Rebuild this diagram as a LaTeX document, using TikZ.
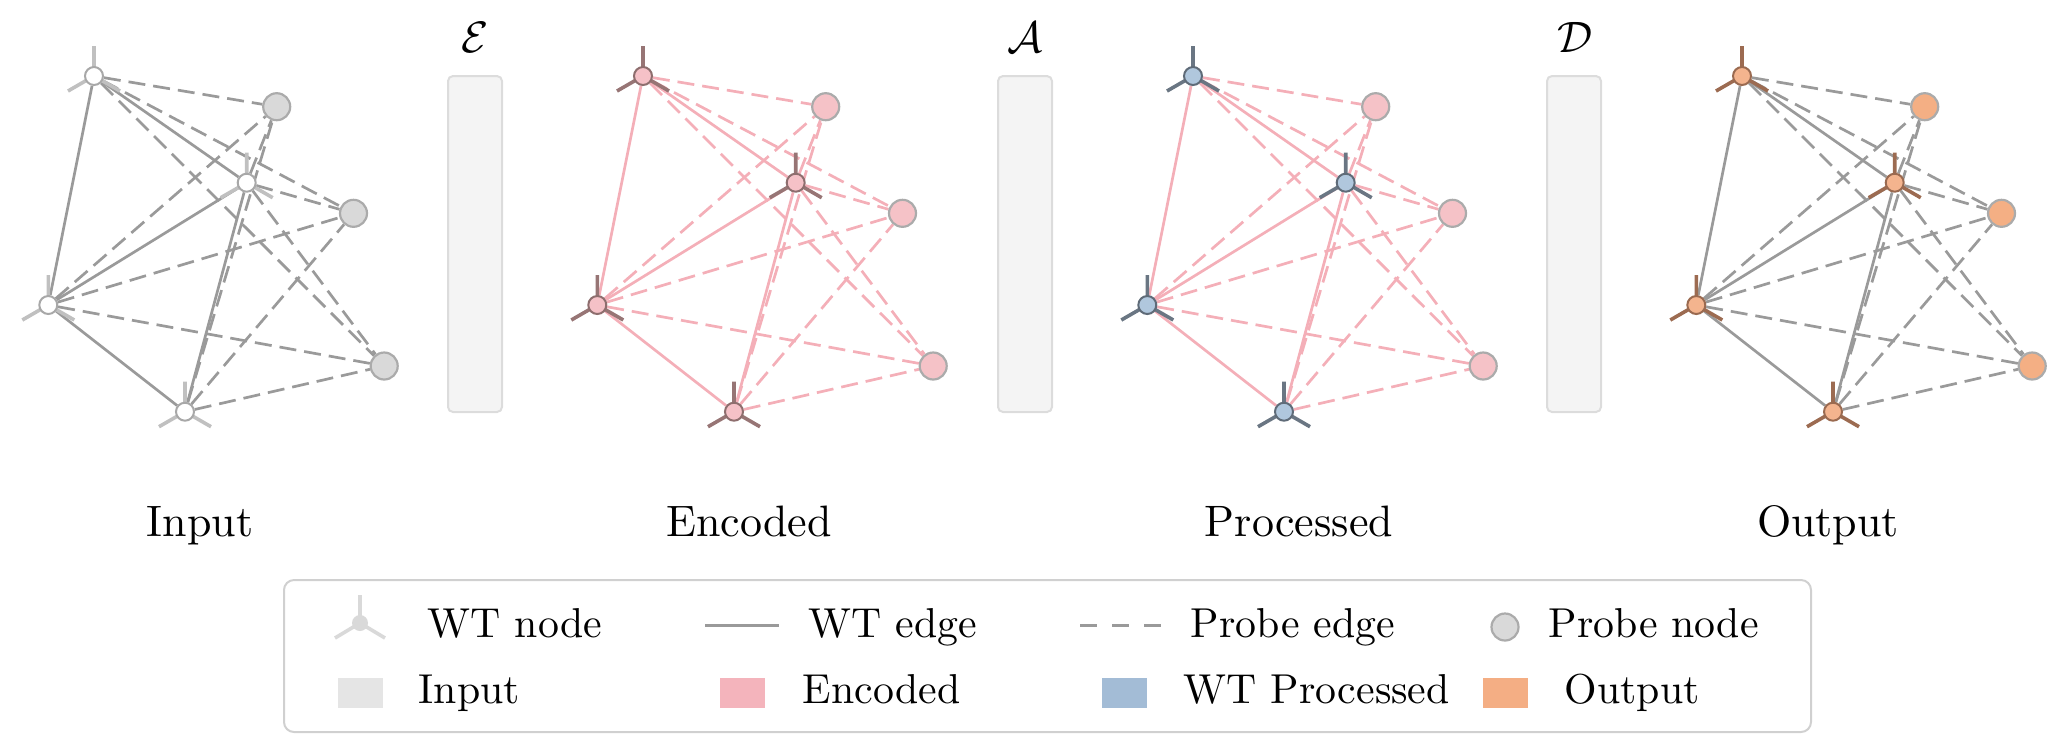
\documentclass[tikz,border=0pt]{standalone}
\usepackage{tikz}
\newdimen\pxu \pxu=0.22727pt
\pgfdeclarelayer{bg}\pgfdeclarelayer{mid}\pgfsetlayers{bg,mid,main}
\definecolor{edgegray}{HTML}{9A9A9A}
\definecolor{edgepink}{HTML}{F4AFB8}
\definecolor{prbstroke}{HTML}{ABABAB}
\definecolor{prbgray}{HTML}{D9D9D9}
\definecolor{prbpink}{HTML}{F5C2C7}
\definecolor{prbpeach}{HTML}{F4AF84}
\definecolor{inwhite}{HTML}{FFFFFF}
\definecolor{instroke}{HTML}{A8A8A8}
\definecolor{inspoke}{HTML}{C0C0C0}
\definecolor{enfill}{HTML}{F5C1C7}
\definecolor{enstroke}{HTML}{8E6E6E}
\definecolor{enspoke}{HTML}{977575}
\definecolor{prfill}{HTML}{B0C7DD}
\definecolor{prstroke}{HTML}{5F6B78}
\definecolor{prspoke}{HTML}{6A7683}
\definecolor{oufill}{HTML}{F4B48E}
\definecolor{oustroke}{HTML}{9A6A50}
\definecolor{ouspoke}{HTML}{9C6B51}
\definecolor{barfill}{HTML}{F4F4F4}
\definecolor{barline}{HTML}{DCDCDC}
\definecolor{legline}{HTML}{D0D0D0}
\definecolor{swin}{HTML}{E5E5E5}
\definecolor{swen}{HTML}{F4B4BC}
\definecolor{swpr}{HTML}{A3BCD6}
\definecolor{swou}{HTML}{F4AE84}
\definecolor{legwt}{HTML}{D9D9D9}

% #1 panel id (digit), #2 x offset, #3 edge colour, #4 node fill, #5 node stroke, #6 spoke colour, #7 probe fill
\newcommand{\wtpanel}[7]{%
\begin{scope}[xshift=#2\pxu]
  \foreach \n/\x/\y in {A/94/76, B/246.7/182.7, C/48.3/305, D/185/411.7} {
    \node[wtn, fill=#4, draw=#5] (\n#1) at (\x,\y) {};
    \begin{pgfonlayer}{mid}
      \draw[spk, draw=#6] (\n#1.center) -- ++(0,-30)
                          (\n#1.center) -- ++(-26,15)
                          (\n#1.center) -- ++(26,15);
    \end{pgfonlayer}
  }
  \foreach \n/\x/\y in {P/276.7/106.7, Q/353.5/213.3, R/384.2/366} {
    \node[prb, fill=#7] (\n#1) at (\x,\y) {};
  }
  \begin{pgfonlayer}{bg}
    \draw[wte, draw=#3] (A#1) -- (B#1) (A#1) -- (C#1) (B#1) -- (C#1)
                        (C#1) -- (D#1) (B#1) -- (D#1);
    \foreach \va in {A,B,C,D} {
      \foreach \vb in {P,Q,R} {
        \draw[pre, draw=#3] (\va#1) -- (\vb#1);
      }
    }
  \end{pgfonlayer}
\end{scope}}

\begin{document}
\begin{tikzpicture}[x=0.22727pt, y=-0.22727pt,
  wtn/.style={circle, inner sep=0pt, minimum size=18\pxu, line width=2\pxu},
  spk/.style={line width=3.6\pxu},
  prb/.style={circle, inner sep=0pt, minimum size=27\pxu, draw=prbstroke, line width=2.2\pxu},
  wte/.style={line width=2.7\pxu},
  pre/.style={line width=2.7\pxu, dash pattern=on 17\pxu off 8\pxu},
  barbox/.style={rectangle, rounded corners=5\pxu, minimum width=54\pxu, minimum height=336\pxu,
                 fill=barfill, draw=barline, line width=2\pxu, inner sep=0pt},
  ttl/.style={font=\fontsize{10}{12}\selectfont, inner sep=0pt, anchor=base},
  lgt/.style={font=\fontsize{9.5}{11}\selectfont, inner sep=0pt, anchor=base west},
  swatch/.style={rectangle, inner sep=0pt, minimum width=45\pxu, minimum height=30\pxu}]
\useasboundingbox (0,0) rectangle (2067,754);

\wtpanel{1}{0}{edgegray}{inwhite}{instroke}{inspoke}{prbgray}
\wtpanel{2}{549}{edgepink}{enfill}{enstroke}{enspoke}{prbpink}
\wtpanel{3}{1099}{edgepink}{prfill}{prstroke}{prspoke}{prbpink}
\wtpanel{4}{1648}{edgegray}{oufill}{oustroke}{ouspoke}{prbpeach}

% operator bars
\node[barbox] (barE) at (475,244) {};
\node[barbox] (barA) at (1025,244) {};
\node[barbox] (barD) at (1574,244) {};
\node[ttl] (labE) at (475,52) {$\mathcal{E}$};
\node[ttl] (labA) at (1025,52) {$\mathcal{A}$};
\node[ttl] (labD) at (1575,52) {$\mathcal{D}$};

% titles
\node[ttl] (tIn) at (200,536) {Input};
\node[ttl] (tEn) at (749,536) {Encoded};
\node[ttl] (tPr) at (1299,536) {Processed};
\node[ttl] (tOu) at (1828,536) {Output};

% legend
\node[rectangle, draw=legline, fill=white, rounded corners=10\pxu, line width=2\pxu,
      minimum width=1527\pxu, minimum height=152\pxu, inner sep=0pt] (leg) at (1047.5,656) {};
\node[circle, fill=legwt, inner sep=0pt, minimum size=16\pxu] (lwt) at (360,623) {};
\draw[legwt, line width=3.6\pxu] (lwt.center) -- ++(0,-28) (lwt.center) -- ++(-25,15) (lwt.center) -- ++(25,15);
\node[lgt] (lwtT) at (427,637) {WT node};
\coordinate (le1) at (705,625);
\coordinate (le2) at (779,625);
\draw[edgegray, line width=3\pxu] (le1) -- (le2);
\node[lgt] (leT) at (808,637) {WT edge};
\coordinate (lp1) at (1080,625);
\coordinate (lp2) at (1162,625);
\draw[edgegray, line width=3\pxu, dash pattern=on 17\pxu off 15\pxu] (lp1) -- (lp2);
\node[lgt] (lpT) at (1190,637) {Probe edge};
\node[prb, fill=prbgray] (lpn) at (1505,627) {};
\node[lgt] (lpnT) at (1548,637) {Probe node};

\node[swatch, fill=swin] (sIn) at (360.5,693) {};
\node[lgt] (sInT) at (418,703) {Input};
\node[swatch, fill=swen] (sEn) at (742,693) {};
\node[lgt] (sEnT) at (802,703) {Encoded};
\node[swatch, fill=swpr] (sPr) at (1124,693) {};
\node[lgt] (sPrT) at (1183,703) {WT Processed};
\node[swatch, fill=swou] (sOu) at (1505,693) {};
\node[lgt] (sOuT) at (1564,703) {Output};
\end{tikzpicture}
\end{document}
